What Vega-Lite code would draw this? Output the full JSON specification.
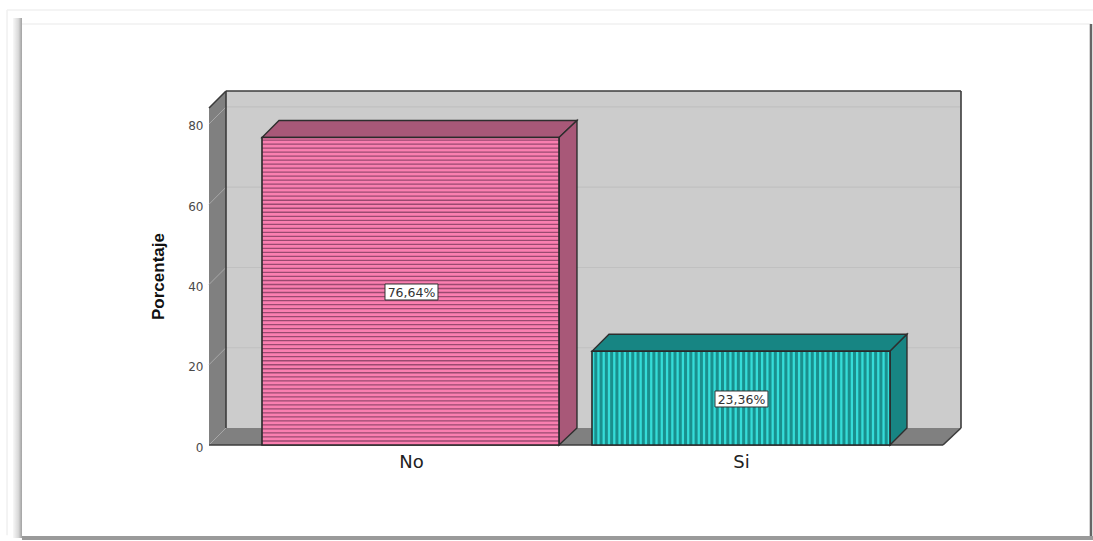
{"$schema":"https://vega.github.io/schema/vega-lite/v6.json","autosize":{"type":"none"},"width":752,"height":354,"padding":{"left":209,"top":91,"right":132,"bottom":96},"background":"#ffffff","config":{"view":{"stroke":null}},
"datasets":{
"bars":[{"cat":"No","x":0.5485,"x2":1.4485,"y":0,"value":76.64,"label":"76,64%","lx":0.9212,"lx2":1.0818,"ly":40.12,"ly2":36.14,"tx":1.0015,"ty":37.9},{"cat":"Si","x":1.5485,"x2":2.4515,"y":0,"value":23.36,"label":"23,36%","lx":1.9212,"lx2":2.0818,"ly":13.46,"ly2":9.47,"tx":2.0015,"ty":11.2}],
"pinkFaces":[{"f":"top","x":0.5485,"y":76.64,"y2":76.64},{"f":"top","x":0.6,"y":76.64,"y2":80.88},{"f":"top","x":1.4485,"y":76.64,"y2":80.88},{"f":"top","x":1.503,"y":80.88,"y2":80.88},{"f":"side","x":1.4485,"y":0,"y2":76.64},{"f":"side","x":1.503,"y":4.24,"y2":80.88}],
"tealFaces":[{"f":"top","x":1.5485,"y":23.36,"y2":23.36},{"f":"top","x":1.6,"y":23.36,"y2":27.6},{"f":"top","x":2.4515,"y":23.36,"y2":27.6},{"f":"top","x":2.503,"y":27.6,"y2":27.6},{"f":"side","x":2.4515,"y":0,"y2":23.36},{"f":"side","x":2.503,"y":4.24,"y2":27.6}],
"wallFaces":[{"f":"left","x":0.3879,"y":0,"y2":83.99},{"f":"left","x":0.4394,"y":4.237,"y2":88.22},{"f":"floor","x":0.3879,"y":0,"y2":0},{"f":"floor","x":0.4394,"y":0,"y2":4.237},{"f":"floor","x":2.6121,"y":0,"y2":4.237},{"f":"floor","x":2.6667,"y":4.237,"y2":4.237}],
"grid":[{"x":0.4394,"x2":2.6667,"y":84.24,"y2":84.24},{"x":0.4394,"x2":2.6667,"y":64.24,"y2":64.24},{"x":0.4394,"x2":2.6667,"y":44.24,"y2":44.24},{"x":0.4394,"x2":2.6667,"y":24.24,"y2":24.24}],
"slants":[{"x":0.3879,"x2":0.4394,"y":80,"y2":84.24},{"x":0.3879,"x2":0.4394,"y":60,"y2":64.24},{"x":0.3879,"x2":0.4394,"y":40,"y2":44.24},{"x":0.3879,"x2":0.4394,"y":20,"y2":24.24},{"x":0.3879,"x2":0.4394,"y":0,"y2":4.24}],
"outline":[{"x":0.4394,"x2":0.4394,"y":4.237,"y2":88.22},{"x":0.4394,"x2":2.6667,"y":88.22,"y2":88.22},{"x":0.3879,"x2":0.4394,"y":83.99,"y2":88.22},{"x":2.6667,"x2":2.6667,"y":88.22,"y2":4.237},{"x":2.6667,"x2":2.6121,"y":4.237,"y2":0},{"x":0.3879,"x2":2.6121,"y":0,"y2":0}],
"pinkStripes":[{"v":1},{"v":2},{"v":3},{"v":4},{"v":5},{"v":6},{"v":7},{"v":8},{"v":9},{"v":10},{"v":11},{"v":12},{"v":13},{"v":14},{"v":15},{"v":16},{"v":17},{"v":18},{"v":19},{"v":20},{"v":21},{"v":22},{"v":23},{"v":24},{"v":25},{"v":26},{"v":27},{"v":28},{"v":29},{"v":30},{"v":31},{"v":32},{"v":33},{"v":34},{"v":35},{"v":36},{"v":37},{"v":38},{"v":39},{"v":40},{"v":41},{"v":42},{"v":43},{"v":44},{"v":45},{"v":46},{"v":47},{"v":48},{"v":49},{"v":50},{"v":51},{"v":52},{"v":53},{"v":54},{"v":55},{"v":56},{"v":57},{"v":58},{"v":59},{"v":60},{"v":61},{"v":62},{"v":63},{"v":64},{"v":65},{"v":66},{"v":67},{"v":68},{"v":69},{"v":70},{"v":71},{"v":72},{"v":73},{"v":74},{"v":75},{"v":76}],
"tealStripes":[{"v":1.56},{"v":1.576},{"v":1.592},{"v":1.608},{"v":1.624},{"v":1.64},{"v":1.656},{"v":1.672},{"v":1.688},{"v":1.704},{"v":1.72},{"v":1.736},{"v":1.752},{"v":1.768},{"v":1.784},{"v":1.8},{"v":1.816},{"v":1.832},{"v":1.848},{"v":1.864},{"v":1.88},{"v":1.896},{"v":1.912},{"v":1.928},{"v":1.944},{"v":1.96},{"v":1.976},{"v":1.992},{"v":2.008},{"v":2.024},{"v":2.04},{"v":2.056},{"v":2.072},{"v":2.088},{"v":2.104},{"v":2.12},{"v":2.136},{"v":2.152},{"v":2.168},{"v":2.184},{"v":2.2},{"v":2.216},{"v":2.232},{"v":2.248},{"v":2.264},{"v":2.28},{"v":2.296},{"v":2.312},{"v":2.328},{"v":2.344},{"v":2.36},{"v":2.376},{"v":2.392},{"v":2.408},{"v":2.424},{"v":2.44}]
},
"layer":[
{"data":{"values":[{"x":-0.2061,"x2":3.0606,"y":104.92,"y2":104.92},{"x":-0.2242,"x2":3.0667,"y":108.41,"y2":108.41},{"x":-0.2242,"x2":-0.2242,"y":108.41,"y2":-22.5}]},"mark":{"type":"rule","color":"#f0f0f0","strokeWidth":1.5},"encoding":{"x":{"field":"x","type":"quantitative","scale":{"domain":[0.3879,2.6667],"nice":false,"zero":false},"axis":{"values":[1,2],"labelExpr":"datum.value==1?'No':'Si'","title":null,"domain":false,"ticks":false,"grid":false,"labelFont":"DejaVu Sans","labelFontSize":18,"labelColor":"#222222","labelPadding":8}},"x2":{"field":"x2"},"y":{"field":"y","type":"quantitative","scale":{"domain":[0,88.22],"nice":false,"zero":false},"axis":{"values":[0,20,40,60,80],"title":"Porcentaje","domain":false,"ticks":false,"grid":false,"labelFont":"DejaVu Sans","labelFontSize":12,"labelColor":"#4a4a4a","labelPadding":6,"labelOffset":2,"titleFont":"Liberation Sans","titleFontWeight":"bold","titleFontSize":17,"titleColor":"#111111","titlePadding":20,"titleY":185}},"y2":{"field":"y2"}}},
{"data":{"values":[{"x":-0.2061,"x2":-0.1788,"y":106.42,"y2":-23.18}]},"mark":{"type":"rect","fill":{"x1":0,"x2":1,"y1":0,"y2":0,"gradient":"linear","stops":[{"offset":0,"color":"#f8f8f8"},{"offset":0.6,"color":"#d8d8d8"},{"offset":1,"color":"#a0a0a0"}]}},"encoding":{"x":{"field":"x","type":"quantitative"},"x2":{"field":"x2"},"y":{"field":"y","type":"quantitative"},"y2":{"field":"y2"}}},
{"data":{"values":[{"x":3.0606,"x2":3.0606,"y":104.92,"y2":-23.18}]},"mark":{"type":"rule","color":"#666666","strokeWidth":2.5},"encoding":{"x":{"field":"x","type":"quantitative"},"x2":{"field":"x2"},"y":{"field":"y","type":"quantitative"},"y2":{"field":"y2"}}},
{"data":{"values":[{"x":-0.1788,"x2":3.0667,"y":-23.18,"y2":-23.18}]},"mark":{"type":"rule","color":"#9a9a9a","strokeWidth":4},"encoding":{"x":{"field":"x","type":"quantitative"},"x2":{"field":"x2"},"y":{"field":"y","type":"quantitative"},"y2":{"field":"y2"}}},
{"data":{"values":[{"x":0.4394,"x2":2.6667,"y":4.237,"y2":88.22}]},"mark":{"type":"rect","color":"#cccccc"},"encoding":{"x":{"field":"x","type":"quantitative"},"x2":{"field":"x2"},"y":{"field":"y","type":"quantitative"},"y2":{"field":"y2"}}},
{"data":{"name":"grid"},"mark":{"type":"rule","color":"#c0c0c0","strokeWidth":1.2},"encoding":{"x":{"field":"x","type":"quantitative"},"x2":{"field":"x2"},"y":{"field":"y","type":"quantitative"},"y2":{"field":"y2"}}},
{"data":{"name":"wallFaces"},"mark":{"type":"area","color":"#808080"},"encoding":{"x":{"field":"x","type":"quantitative"},"y":{"field":"y","type":"quantitative"},"y2":{"field":"y2"},"detail":{"field":"f"}}},
{"data":{"name":"slants"},"mark":{"type":"rule","color":"#a8a8a8","strokeWidth":1},"encoding":{"x":{"field":"x","type":"quantitative"},"x2":{"field":"x2"},"y":{"field":"y","type":"quantitative"},"y2":{"field":"y2"}}},
{"data":{"name":"outline"},"mark":{"type":"rule","color":"#3c3c3c","strokeWidth":1.6},"encoding":{"x":{"field":"x","type":"quantitative"},"x2":{"field":"x2"},"y":{"field":"y","type":"quantitative"},"y2":{"field":"y2"}}},
{"data":{"name":"pinkFaces"},"mark":{"type":"area","color":"#a85878","stroke":"#2e2e2e","strokeWidth":1.4},"encoding":{"x":{"field":"x","type":"quantitative"},"y":{"field":"y","type":"quantitative"},"y2":{"field":"y2"},"detail":{"field":"f"}}},
{"data":{"name":"tealFaces"},"mark":{"type":"area","color":"#178583","stroke":"#2e2e2e","strokeWidth":1.4},"encoding":{"x":{"field":"x","type":"quantitative"},"y":{"field":"y","type":"quantitative"},"y2":{"field":"y2"},"detail":{"field":"f"}}},
{"data":{"name":"bars"},"mark":{"type":"rect"},"encoding":{"x":{"field":"x","type":"quantitative"},"x2":{"field":"x2"},"y":{"field":"y","type":"quantitative"},"y2":{"field":"value"},"color":{"field":"cat","type":"nominal","legend":null,"scale":{"domain":["No","Si"],"range":["#fa7fb0","#35dcd8"]}}}},
{"data":{"name":"pinkStripes"},"mark":{"type":"rule","color":"#9a4a70","strokeWidth":1.3},"encoding":{"x":{"datum":0.5485,"type":"quantitative"},"x2":{"datum":1.4485},"y":{"field":"v","type":"quantitative"}}},
{"data":{"name":"tealStripes"},"mark":{"type":"rule","color":"#1a8f8d","strokeWidth":3},"encoding":{"x":{"field":"v","type":"quantitative"},"y":{"datum":0,"type":"quantitative"},"y2":{"datum":23.36}}},
{"data":{"name":"bars"},"mark":{"type":"rect","fill":null,"stroke":"#2a2a2a","strokeWidth":1.6},"encoding":{"x":{"field":"x","type":"quantitative"},"x2":{"field":"x2"},"y":{"field":"y","type":"quantitative"},"y2":{"field":"value"}}},
{"data":{"name":"bars"},"mark":{"type":"rect","fill":"#ffffff","stroke":"#333333","strokeWidth":1},"encoding":{"x":{"field":"lx","type":"quantitative"},"x2":{"field":"lx2"},"y":{"field":"ly","type":"quantitative"},"y2":{"field":"ly2"}}},
{"data":{"name":"bars"},"mark":{"type":"text","font":"DejaVu Sans","fontSize":12.5,"color":"#333333"},"encoding":{"x":{"field":"tx","type":"quantitative"},"y":{"field":"ty","type":"quantitative"},"text":{"field":"label"}}}
]}
